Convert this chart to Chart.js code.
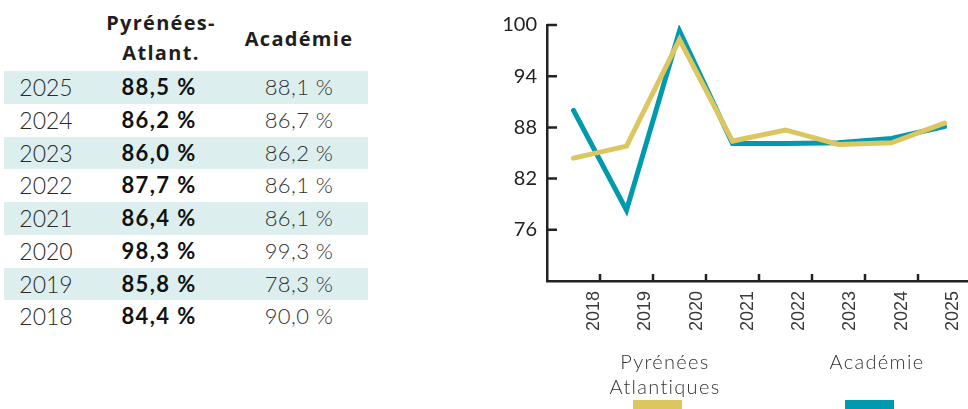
<!DOCTYPE html>
<html>
<head>
<meta charset="utf-8">
<script src="https://cdn.jsdelivr.net/npm/chart.js@4"></script>
<style>
  html, body { margin: 0; padding: 0; background: #fff; }
  body { width: 968px; height: 409px; position: relative; overflow: hidden; }
  .abs { position: absolute; white-space: nowrap; }
  .hdr { font-family: "Open Sans", sans-serif; font-weight: 700; font-size: 20px; color: #1e1e1e; text-align: center; line-height: 30px; letter-spacing: 1.3px; }
  .row { position: absolute; left: 4px; width: 364px; height: 32.75px; }
  .row.shade { background: #dcefee; }
  .cell { position: absolute; top: 0; line-height: 32.75px; font-family: Lato, sans-serif; font-size: 22px; text-align: center; white-space: nowrap; }
  .yr { left: 0; width: 84px; font-weight: 300; color: #2a2a2a; font-size: 23px; }
  .pv { left: 95px; width: 120px; font-weight: 700; color: #111; letter-spacing: 1.4px; }
  .av { left: 235px; width: 120px; font-weight: 300; color: #333; letter-spacing: 0.4px; }
  #chartWrap { position: absolute; left: 490px; top: 0; width: 478px; height: 409px; }
  .leg { font-family: Lato, sans-serif; font-weight: 300; font-size: 20px; line-height: 25px; color: #333; text-align: center; letter-spacing: 1.3px; }
  .sw { position: absolute; height: 9px; width: 49px; }
</style>
</head>
<body>
<div id="table"></div>
<div id="chartWrap"><canvas id="c" width="478" height="409"></canvas></div>
<div id="legend"></div>
<script>
// ---- data ----
const years = ['2018', '2019', '2020', '2021', '2022', '2023', '2024', '2025'];
const pyrenees = [84.4, 85.8, 98.3, 86.4, 87.7, 86.0, 86.2, 88.5];
const academie = [90.0, 78.3, 99.3, 86.1, 86.1, 86.2, 86.7, 88.1];
const yTickValues = [70, 76, 82, 88, 94, 100];
const seriesNames = ['Pyrénées\nAtlantiques', 'Académie'];
const headerPyr = ['Pyrénées-', 'Atlant.'];
const headerAca = 'Académie';

const colPyr = '#dcc660';
const colAca = '#0099ae';

// ---- table ----
const fmt = v => v.toFixed(1).replace('.', ',') + ' %';
const tbl = document.getElementById('table');
let html = '';
html += '<div class="abs hdr" style="left:101px;width:120px;top:8px;">' + headerPyr[0] + '<br>' + headerPyr[1] + '</div>';
html += '<div class="abs hdr" style="left:239px;width:120px;top:24px;">' + headerAca + '</div>';
const n = years.length;
for (let k = 0; k < n; k++) {
  const i = n - 1 - k;
  const top = 71 + k * 32.75;
  html += '<div class="row' + (k % 2 === 0 ? ' shade' : '') + '" style="top:' + top + 'px">' +
    '<div class="cell yr">' + years[i] + '</div>' +
    '<div class="cell pv">' + fmt(pyrenees[i]) + '</div>' +
    '<div class="cell av">' + fmt(academie[i]) + '</div></div>';
}
tbl.innerHTML = html;

// ---- legend ----
document.getElementById('legend').innerHTML =
  '<div class="abs leg" style="left:585px;width:160px;top:349px;">' + seriesNames[0].replace('\n', '<br>') + '</div>' +
  '<div class="sw" style="left:633px;top:400px;background:' + colPyr + '"></div>' +
  '<div class="abs leg" style="left:797px;width:160px;top:349px;">' + seriesNames[1] + '</div>' +
  '<div class="sw" style="left:845px;top:400px;background:' + colAca + '"></div>';

// ---- chart ----
const toPoints = arr => arr.map((v, i) => ({ x: i + 0.5, y: v }));

const innerTicks = {
  id: 'innerTicks',
  afterDraw(chart) {
    const ctx = chart.ctx;
    const ys = chart.scales.y, xs = chart.scales.x;
    const a = chart.chartArea;
    ctx.save();
    ctx.strokeStyle = '#222';
    ctx.lineWidth = 2.5;
    ctx.beginPath();
    yTickValues.forEach(v => {
      if (v === ys.min) return;
      const py = ys.getPixelForValue(v);
      ctx.moveTo(a.left, py);
      ctx.lineTo(a.left + 10, py);
    });
    for (let i = 1; i < years.length; i++) {
      const px = xs.getPixelForValue(i);
      ctx.moveTo(px, a.bottom);
      ctx.lineTo(px, a.bottom - 7);
    }
    ctx.stroke();
    ctx.restore();
  }
};

const noPad = s => { s.paddingLeft = 0; s.paddingRight = 0; s.paddingTop = 0; s.paddingBottom = 0; };

new Chart(document.getElementById('c'), {
  type: 'line',
  data: {
    datasets: [
      { label: 'Pyrénées Atlantiques', data: toPoints(pyrenees), borderColor: colPyr, borderWidth: 5, pointRadius: 0, tension: 0, borderCapStyle: 'round', borderJoinStyle: 'miter', xAxisID: 'x', order: 0 },
      { label: 'Académie', data: toPoints(academie), borderColor: colAca, borderWidth: 5, pointRadius: 0, tension: 0, borderCapStyle: 'round', borderJoinStyle: 'miter', xAxisID: 'x', order: 1 }
    ]
  },
  options: {
    responsive: false,
    animation: false,
    layout: { padding: { top: 25, left: 0, right: 0, bottom: 0 } },
    plugins: { legend: { display: false }, tooltip: { enabled: false } },
    scales: {
      x: {
        type: 'linear', display: false, min: 0, max: 421 / 53,
        afterFit: noPad
      },
      xl: {
        type: 'linear', position: 'bottom',
        min: -47 / 51.3, max: 374 / 51.3,
        afterBuildTicks: s => { s.ticks = years.map((y, i) => ({ value: i })); },
        afterFit: s => { s.height = 128; noPad(s); },
        grid: { display: true, drawOnChartArea: false, drawTicks: false },
        border: { display: true, color: '#222', width: 2.5 },
        ticks: {
          autoSkip: false, minRotation: 90, maxRotation: 90, padding: 10,
          color: '#3a3a3a', font: { family: '"Liberation Sans", Arial, sans-serif', size: 18 },
          callback: (v, i) => years[i]
        }
      },
      y: {
        min: 70, max: 100,
        afterBuildTicks: s => { s.ticks = yTickValues.map(v => ({ value: v })); },
        afterFit: s => { s.width = 57; noPad(s); },
        grid: { display: true, drawOnChartArea: false, drawTicks: false },
        border: { display: true, color: '#222', width: 2.5 },
        ticks: {
          padding: 10, color: '#222',
          font: { family: 'Lato, sans-serif', size: 20 },
          callback: v => (v === 70 ? '' : String(v))
        }
      }
    }
  },
  plugins: [innerTicks]
});
</script>
</body>
</html>
